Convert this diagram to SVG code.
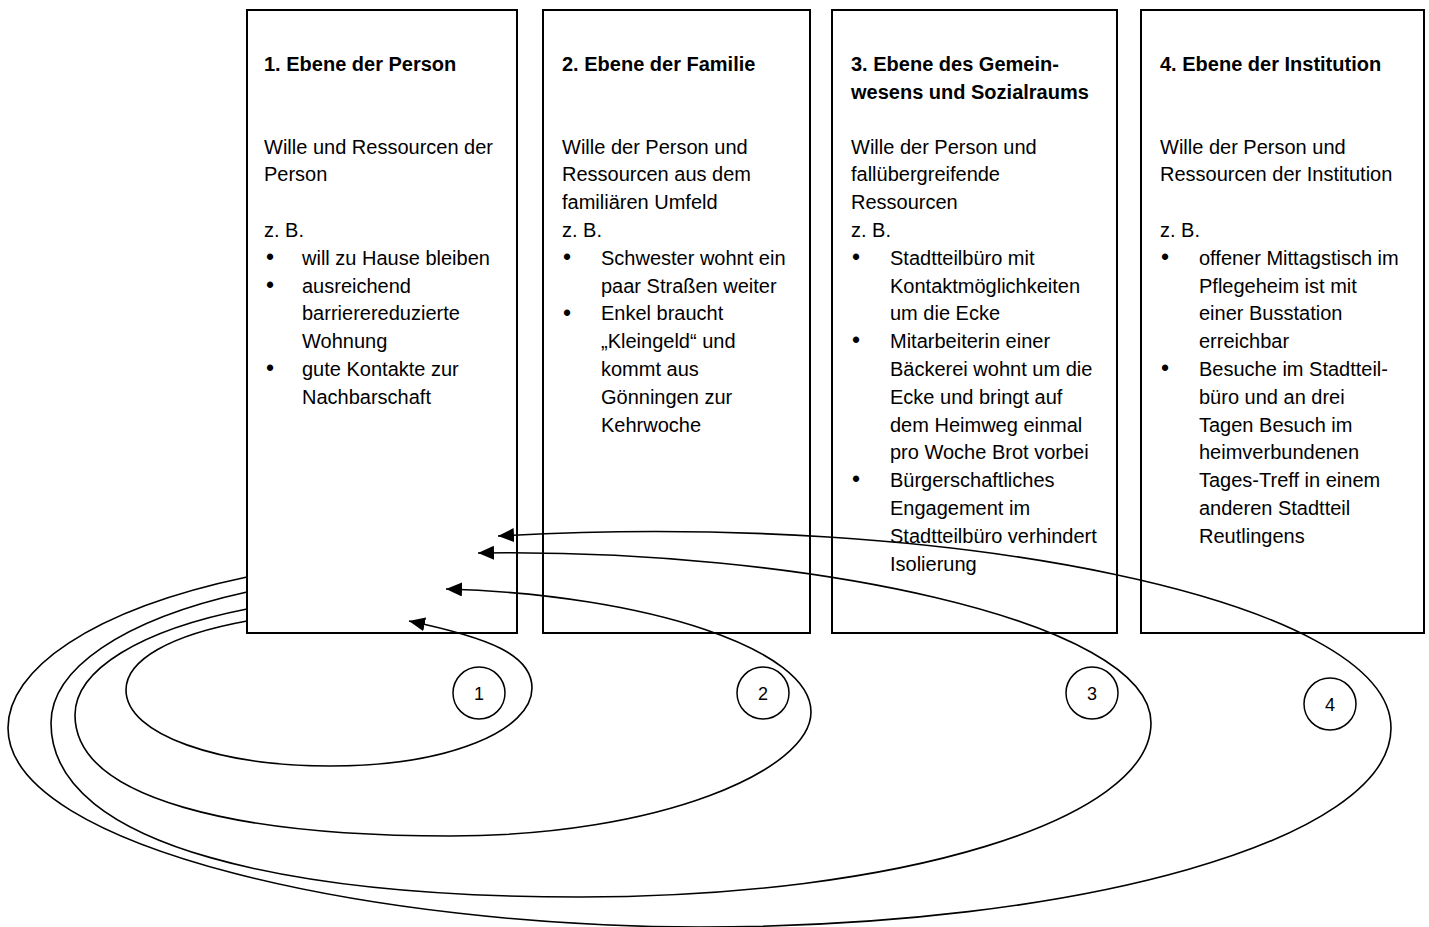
<svg xmlns="http://www.w3.org/2000/svg" width="1429" height="927" viewBox="0 0 1429 927">
<style>
.box{fill:#fff;stroke:#000;stroke-width:2}
.t{font-family:"Liberation Sans",Arial,Helvetica,sans-serif;font-size:20px;fill:#000}
.b{font-weight:bold}
.bul{font-size:23px}
.loop{fill:none;stroke:#000;stroke-width:1.6;marker-end:url(#ah)}
.num circle{fill:#fff;stroke:#000;stroke-width:1.5}
.num text{font-family:"Liberation Sans",Arial,sans-serif;font-size:18px;text-anchor:middle;fill:#000}
</style>
<defs>
<marker id="ah" markerWidth="16" markerHeight="14" refX="16" refY="7" orient="auto" markerUnits="userSpaceOnUse">
<path d="M0,0 L16,7 L0,14 z" fill="#000"/>
</marker>
</defs>
<rect width="1429" height="927" fill="#fff"/>

<g id="node1">
<rect class="box" x="247" y="10" width="270" height="623"/>
<text class="t b" x="264" y="71">1. Ebene der Person</text>
<text class="t"><tspan x="264" y="153.5">Wille und Ressourcen der</tspan><tspan x="264" y="181.3">Person</tspan><tspan x="264" y="236.9">z. B.</tspan></text>
<text class="t bul"><tspan x="266" y="265">•</tspan><tspan x="266" y="293">•</tspan><tspan x="266" y="376">•</tspan></text>
<text class="t"><tspan x="302" y="264.7">will zu Hause bleiben</tspan><tspan x="302" y="292.5">ausreichend</tspan><tspan x="302" y="320.3">barrierereduzierte</tspan><tspan x="302" y="348.1">Wohnung</tspan><tspan x="302" y="375.9">gute Kontakte zur</tspan><tspan x="302" y="403.7">Nachbarschaft</tspan></text>
</g>

<g id="node2">
<rect class="box" x="543" y="10" width="267" height="623"/>
<text class="t b" x="562" y="71">2. Ebene der Familie</text>
<text class="t"><tspan x="562" y="153.5">Wille der Person und</tspan><tspan x="562" y="181.3">Ressourcen aus dem</tspan><tspan x="562" y="209.1">familiären Umfeld</tspan><tspan x="562" y="236.9">z. B.</tspan></text>
<text class="t bul"><tspan x="563" y="265">•</tspan><tspan x="563" y="320.5">•</tspan></text>
<text class="t"><tspan x="601" y="264.7">Schwester wohnt ein</tspan><tspan x="601" y="292.5">paar Straßen weiter</tspan><tspan x="601" y="320.3">Enkel braucht</tspan><tspan x="601" y="348.1">„Kleingeld“ und</tspan><tspan x="601" y="375.9">kommt aus</tspan><tspan x="601" y="403.7">Gönningen zur</tspan><tspan x="601" y="431.5">Kehrwoche</tspan></text>
</g>

<g id="node3">
<rect class="box" x="832" y="10" width="285" height="623"/>
<text class="t b"><tspan x="851" y="71">3. Ebene des Gemein-</tspan><tspan x="851" y="99">wesens und Sozialraums</tspan></text>
<text class="t"><tspan x="851" y="153.5">Wille der Person und</tspan><tspan x="851" y="181.3">fallübergreifende</tspan><tspan x="851" y="209.1">Ressourcen</tspan><tspan x="851" y="236.9">z. B.</tspan></text>
<text class="t bul"><tspan x="852" y="265">•</tspan><tspan x="852" y="348.3">•</tspan><tspan x="852" y="487.3">•</tspan></text>
<text class="t"><tspan x="890" y="264.7">Stadtteilbüro mit</tspan><tspan x="890" y="292.5">Kontaktmöglichkeiten</tspan><tspan x="890" y="320.3">um die Ecke</tspan><tspan x="890" y="348.1">Mitarbeiterin einer</tspan><tspan x="890" y="375.9">Bäckerei wohnt um die</tspan><tspan x="890" y="403.7">Ecke und bringt auf</tspan><tspan x="890" y="431.5">dem Heimweg einmal</tspan><tspan x="890" y="459.3">pro Woche Brot vorbei</tspan><tspan x="890" y="487.1">Bürgerschaftliches</tspan><tspan x="890" y="514.9">Engagement im</tspan><tspan x="890" y="542.7">Stadtteilbüro verhindert</tspan><tspan x="890" y="570.5">Isolierung</tspan></text>
</g>

<g id="node4">
<rect class="box" x="1141" y="10" width="283" height="623"/>
<text class="t b" x="1160" y="71">4. Ebene der Institution</text>
<text class="t"><tspan x="1160" y="153.5">Wille der Person und</tspan><tspan x="1160" y="181.3">Ressourcen der Institution</tspan><tspan x="1160" y="236.9">z. B.</tspan></text>
<text class="t bul"><tspan x="1161" y="265">•</tspan><tspan x="1161" y="376">•</tspan></text>
<text class="t"><tspan x="1199" y="264.7">offener Mittagstisch im</tspan><tspan x="1199" y="292.5">Pflegeheim ist mit</tspan><tspan x="1199" y="320.3">einer Busstation</tspan><tspan x="1199" y="348.1">erreichbar</tspan><tspan x="1199" y="375.9">Besuche im Stadtteil-</tspan><tspan x="1199" y="403.7">büro und an drei</tspan><tspan x="1199" y="431.5">Tagen Besuch im</tspan><tspan x="1199" y="459.3">heimverbundenen</tspan><tspan x="1199" y="487.1">Tages-Treff in einem</tspan><tspan x="1199" y="514.9">anderen Stadtteil</tspan><tspan x="1199" y="542.7">Reutlingens</tspan></text>
</g>

<g id="markers" class="num">
<g id="num1"><circle cx="479" cy="693" r="26"/><text x="479" y="699.5">1</text></g>
<g id="num2"><circle cx="763" cy="693" r="26"/><text x="763" y="699.5">2</text></g>
<g id="num3"><circle cx="1092" cy="693" r="26"/><text x="1092" y="699.5">3</text></g>
<g id="num4"><circle cx="1330" cy="704" r="26"/><text x="1330" y="710.5">4</text></g>
</g>

<g id="connectors">
<path class="loop" d="M247,621 C170,635 126,660 126,690 C126,735 220,766 330,766 C450,766 532,730 532,688 C532,655 490,638 409,621"/>
<path class="loop" d="M247,609 C140,630 75,670 75,715 C75,800 240,836 450,836 C660,836 811,770 811,712 C811,650 650,595 446,589"/>
<path class="loop" d="M247,592 C120,620 51,670 51,723 C51,850 300,897 580,897 C900,897 1151,820 1151,723 C1151,620 800,548 478,553"/>
<path class="loop" d="M247,577 C90,610 8,670 8,728 C8,850 380,927 700,927 C1080,927 1391,840 1391,728 C1391,600 950,510 498,536"/>
</g>
</svg>
